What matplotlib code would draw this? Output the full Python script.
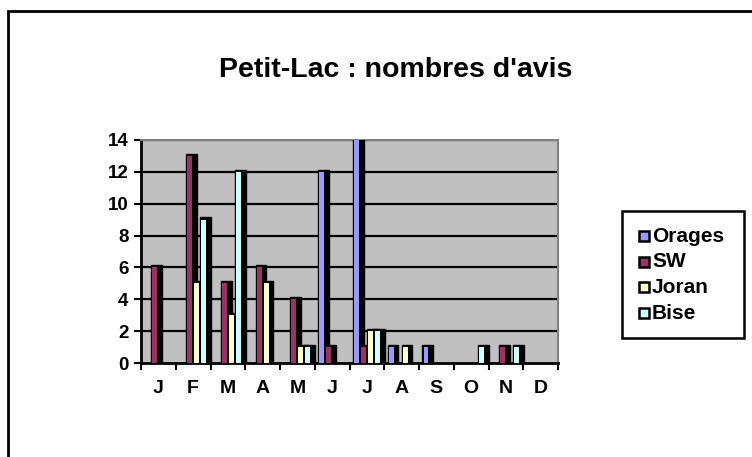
import matplotlib.pyplot as plt
from matplotlib.patches import Rectangle
import numpy as np

plt.rcParams['font.family'] = ['Liberation Sans', 'DejaVu Sans']
plt.rcParams['font.weight'] = 'bold'

months = ["J", "F", "M", "A", "M", "J", "J", "A", "S", "O", "N", "D"]
series = ["Orages", "SW", "Joran", "Bise"]
orages = [0, 0, 0, 0, 0, 12, 14, 1, 1, 0, 0, 0]
sw = [6, 13, 5, 6, 4, 1, 1, 0, 0, 0, 1, 0]
joran = [0, 5, 3, 5, 1, 0, 2, 1, 0, 0, 0, 0]
bise = [0, 9, 12, 0, 1, 0, 2, 0, 0, 1, 1, 0]
colors = ["#9999FF", "#993366", "#FFFFCC", "#CCFFFF"]

W, H = 752, 457
fig = plt.figure(figsize=(7.52, 4.57), dpi=100)


def px(x, y):
    # pixel position (from top-left) to figure fraction
    return x / W, 1 - y / H


# outer chart frame (runs off the right and bottom edge)
fig.add_artist(Rectangle((7.5 / W, -0.1), 1.2, 1 - 10.5 / H + 0.1,
                         transform=fig.transFigure, fill=False,
                         edgecolor="black", linewidth=2))

ax = fig.add_axes([141 / W, 1 - 363 / H, 417 / W, 223 / H])
ax.set_facecolor("#C0C0C0")
ax.set_xlim(0, 12)
ax.set_ylim(0, 14)

for y in range(2, 15, 2):
    ax.axhline(y, color="black", linewidth=1.6, zorder=1)

w = 0.2
dx = 0.11
dy = 0.14
x = np.arange(12)
z = 2
for i, (vals, col) in enumerate(zip([orages, sw, joran, bise], colors)):
    for j, v in enumerate(vals):
        if v == 0:
            continue
        x0 = x[j] + 0.1 + i * w
        ax.add_patch(Rectangle((x0, 0), w + dx, v + dy, facecolor="black",
                               edgecolor="black", zorder=z))
        ax.add_patch(Rectangle((x0 + 0.03, 0), w - 0.06, v, facecolor=col,
                               edgecolor="none", zorder=z + 1))
        z += 2

ax.set_yticks(range(0, 15, 2))
ax.set_yticklabels([str(t) for t in range(0, 15, 2)], fontsize=13.5, fontweight="bold")
ax.set_xticks(x + 0.5)
ax.set_xticklabels(months, fontsize=14, fontweight="bold")
ax.set_xticks(np.arange(13), minor=True)
ax.tick_params(axis="x", which="major", length=0, pad=12)
ax.tick_params(axis="x", which="minor", length=5, width=1.5, direction="out")
ax.tick_params(axis="y", length=5, width=1.5, direction="out", pad=4)
for side in ["top", "right"]:
    ax.spines[side].set_color("#808080")
    ax.spines[side].set_linewidth(1.5)
ax.spines["left"].set_linewidth(2)
ax.spines["bottom"].set_linewidth(2)

fig.text(*px(396, 70), "Petit-Lac : nombres d'avis", fontsize=20.5,
         fontweight="bold", ha="center", va="center")

# legend drawn by hand to match the box layout
lx0, ly0, lx1, ly1 = 622, 211, 744, 338
fig.add_artist(Rectangle(px(lx0, ly1), (lx1 - lx0) / W, (ly1 - ly0) / H,
                         transform=fig.transFigure, fill=False,
                         edgecolor="black", linewidth=1.8))
for k, (name, col) in enumerate(zip(series, colors)):
    yc = 236 + k * 25.7
    fig.add_artist(Rectangle(px(639, yc + 5), 10 / W, 10 / H,
                             transform=fig.transFigure, facecolor=col,
                             edgecolor="black", linewidth=1.8))
    fig.text(*px(652, yc), name, fontsize=15, fontweight="bold",
             ha="left", va="center")

fig.savefig("out.png", dpi=100)
